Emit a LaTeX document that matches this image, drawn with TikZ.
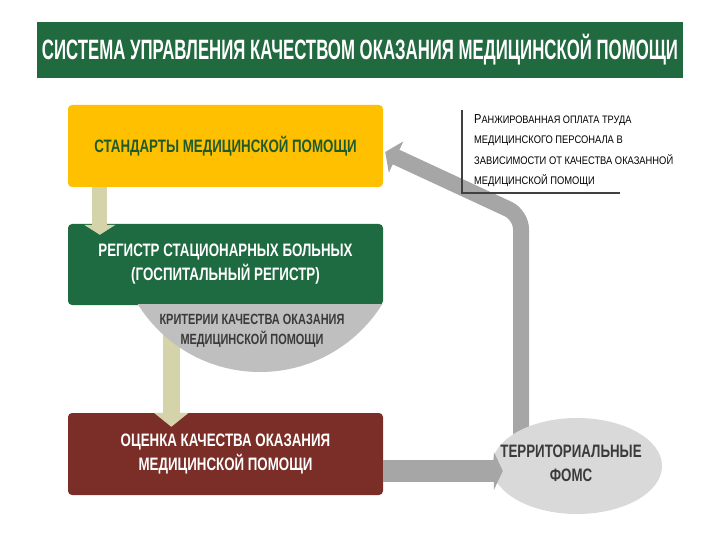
\documentclass[tikz,border=0pt]{standalone}
\usepackage{fontspec}
\setmainfont{Liberation Sans}
\newfontfamily\titlef{Liberation Sans}[FakeStretch=0.6]
\newfontfamily\boxf{Liberation Sans}[FakeStretch=0.74]
\newfontfamily\notef{Liberation Sans}[FakeStretch=0.85]
\usetikzlibrary{arrows.meta,shapes.geometric,calc}
\definecolor{titlegreen}{HTML}{21693F}
\definecolor{yel}{HTML}{FFC000}
\definecolor{yeltext}{HTML}{1F5A2C}
\definecolor{boxgreen}{HTML}{1E6B41}
\definecolor{boxbrown}{HTML}{7A2E27}
\definecolor{beige}{HTML}{D5D3A9}
\definecolor{critgray}{HTML}{BFBFBF}
\definecolor{arrgray}{HTML}{A6A6A6}
\definecolor{fomsgray}{HTML}{D9D9D9}
\definecolor{darktext}{HTML}{3A3A3A}
\definecolor{noteline}{HTML}{404040}
\begin{document}
\begin{tikzpicture}[x=1pt,y=-1pt,
  mainbox/.style={rounded corners=4pt, minimum width=315pt, minimum height=82pt, inner sep=0pt, align=center,
    font=\boxf\bfseries\fontsize{18}{24}\selectfont},
  beigearrow/.style={draw=beige, line width=#1},
  grayarrow/.style={draw=arrgray, line width=#1}
]
\useasboundingbox (0,0) rectangle (720,540);

% title
\node[fill=titlegreen, minimum width=646pt, minimum height=56pt, inner sep=0pt, text=white,
  font=\titlef\bfseries\fontsize{28}{30}\selectfont] (title) at (360,50)
  {СИСТЕМА УПРАВЛЕНИЯ КАЧЕСТВОМ ОКАЗАНИЯ МЕДИЦИНСКОЙ ПОМОЩИ};

% boxes
\node[mainbox, fill=yel, text=yeltext] (std) at (225.5,146) {СТАНДАРТЫ МЕДИЦИНСКОЙ ПОМОЩИ};
\node[mainbox, fill=boxgreen, text=white, minimum height=81pt] (reg) at (225.5,264.5)
  {РЕГИСТР СТАЦИОНАРНЫХ БОЛЬНЫХ\\(ГОСПИТАЛЬНЫЙ РЕГИСТР)};
\node[mainbox, fill=boxbrown, text=white] (eval) at (225.5,454)
  {ОЦЕНКА КАЧЕСТВА ОКАЗАНИЯ\\МЕДИЦИНСКОЙ ПОМОЩИ};

% arrow register -> evaluation (runs under the criteria segment)
\draw[beigearrow=17pt, -{Triangle[width=34pt,length=14pt]}]
  ($(reg.south west)+(103.5,0)$) -- ($(eval.north west)+(103.5,14)$);

% criteria segment below the register box
\begin{scope}
  \clip (100,304.6) rectangle (430,400);
  \node[circle, fill=critgray, minimum size=288pt, inner sep=0pt] (crit) at (260,228) {};
\end{scope}
\node[text=darktext, align=center, font=\boxf\bfseries\fontsize{14.8}{20.5}\selectfont] (crittext) at (252,331)
  {КРИТЕРИИ КАЧЕСТВА ОКАЗАНИЯ\\МЕДИЦИНСКОЙ ПОМОЩИ};

% feedback arrow (drawn before the ellipse so it runs under it)
\coordinate (fomsc) at (577,466);
\coordinate (upstart) at ($(fomsc)+(-56,-20)$);
\coordinate (upbend) at ($(fomsc)+(-56,-251)$);
\coordinate (uptip) at ($(std.east)+(2,6)$);
\draw[grayarrow=16pt, rounded corners=14pt, -{Triangle[width=34pt,length=12pt]}]
  (upstart) -- (upbend) -- (uptip);

% FOMS ellipse
\node[ellipse, fill=fomsgray, minimum width=170pt, minimum height=96pt, inner sep=0pt] (foms) at (fomsc) {};
\node[align=center, text=darktext, font=\boxf\bfseries\fontsize{18}{24}\selectfont, inner sep=0pt]
  (fomstext) at ($(foms.center)+(-6,-3)$) {ТЕРРИТОРИАЛЬНЫЕ\\ФОМС};

% note
\node[anchor=north west, inner sep=0pt, align=left, text=black,
  font=\notef\fontsize{11}{20.3}\selectfont] (note) at (474,114.5)
  {{\fontsize{13}{20.3}\selectfont Р}{\fontsize{10.8}{20.3}\selectfont АНЖИРОВАННАЯ ОПЛАТА ТРУДА}\\
   МЕДИЦИНСКОГО ПЕРСОНАЛА В\\
   ЗАВИСИМОСТИ ОТ КАЧЕСТВА ОКАЗАННОЙ\\
   МЕДИЦИНСКОЙ ПОМОЩИ};
\coordinate (notetop) at (462,110);
\coordinate (notecorner) at (462,193);
\coordinate (noteend) at (620,193);
\draw[noteline, line width=1.3pt] (notetop) -- (notecorner) -- (noteend);

% flow arrows
\draw[beigearrow=15pt, -{Triangle[width=31pt,length=10pt]}]
  ($(std.south west)+(32,0)$) -- ($(reg.north west)+(32,11)$);
\draw[grayarrow=22pt, -{Triangle[width=38pt,length=9pt]}]
  ($(eval.east)+(0,17)$) -- ($(foms.west)+(11,5)$);
\end{tikzpicture}
\end{document}
